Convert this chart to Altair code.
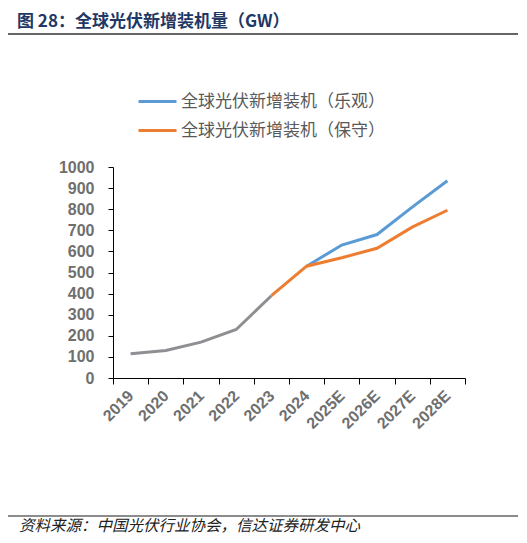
import altair as alt
import pandas as pd

years = ["2019", "2020", "2021", "2022", "2023", "2024", "2025E", "2026E", "2027E", "2028E"]
history = [115, 130, 170, 230, 390, None, None, None, None, None]
optimistic = [None, None, None, None, None, 530, 630, 680, 810, 935]
conservative = [None, None, None, None, 390, 530, 570, 615, 715, 795]

name_opt = "全球光伏新增装机（乐观）"
name_con = "全球光伏新增装机（保守）"

title_text = "图 28：全球光伏新增装机量（GW）"
source_text = "资料来源：中国光伏行业协会，信达证券研发中心"

rows = []
for y, v in zip(years, optimistic):
    if v is not None:
        rows.append({"year": y, "value": v, "series": name_opt})
for y, v in zip(years, conservative):
    if v is not None:
        rows.append({"year": y, "value": v, "series": name_con})
series_df = pd.DataFrame(rows)
hist_df = pd.DataFrame([{"year": y, "value": v} for y, v in zip(years, history) if v is not None])

CJK = "Noto Sans CJK SC"
LAT = "Liberation Sans"
GRAY_TXT = "#6f6f6f"

W, H = 352, 211

x_enc = alt.X(
    "year:O",
    sort=years,
    bandPosition=0.5,
    scale=alt.Scale(type="band", paddingInner=0, paddingOuter=0, domain=years),
    axis=alt.Axis(
        title=None,
        labelAngle=-45,
        labelAlign="right",
        labelBaseline="middle",
        labelFont=LAT,
        labelFontWeight="bold",
        labelFontSize=16,
        labelColor=GRAY_TXT,
        labelPadding=9,
        tickBand="extent",
        tickSize=6,
        tickColor="#000000",
        domainColor="#000000",
        grid=False,
    ),
)
y_enc = alt.Y(
    "value:Q",
    scale=alt.Scale(domain=[0, 1000], nice=False),
    axis=alt.Axis(
        title=None,
        values=list(range(0, 1001, 100)),
        format="d",
        labelFont=LAT,
        labelFontWeight="bold",
        labelFontSize=16,
        labelColor=GRAY_TXT,
        labelPadding=14,
        tickSize=5,
        tickColor="#000000",
        domainColor="#000000",
        grid=False,
    ),
)

hist_line = alt.Chart(hist_df).mark_line(strokeWidth=3, color="#8e8f92").encode(x=x_enc, y=y_enc)

series_line = alt.Chart(series_df).mark_line(strokeWidth=3).encode(
    x=x_enc,
    y=y_enc,
    color=alt.Color(
        "series:N",
        sort=[name_opt, name_con],
        scale=alt.Scale(domain=[name_opt, name_con], range=["#5b9bd5", "#ed7d31"]),
        legend=alt.Legend(
            title=None,
            orient="none",
            legendX=24,
            legendY=-86,
            symbolType="stroke",
            symbolSize=1444,
            symbolStrokeWidth=3,
            labelFont=CJK,
            labelFontSize=17,
            labelColor="#595959",
            labelOffset=3,
            rowPadding=0,
            labelLimit=400,
        ),
    ),
    detail="series:N",
)

title_df = pd.DataFrame([{"t": title_text}])
title_mark = alt.Chart(title_df).mark_text(
    align="left", baseline="alphabetic", font=CJK, fontSize=17, fontWeight="bold", color="#1f3864"
).encode(text="t:N", x=alt.value(-96), y=alt.value(-140))

source_df = pd.DataFrame([{"t": source_text}])
source_mark = alt.Chart(source_df).mark_text(
    align="left", baseline="middle", font=CJK, fontSize=15.5, fontStyle="italic", color="#222222"
).encode(text="t:N", x=alt.value(-94), y=alt.value(359))

top_rule = alt.Chart(title_df).mark_rule(color="#333333", strokeWidth=1.5).encode(
    x=alt.value(-108), x2=alt.value(405), y=alt.value(-133)
)
bottom_rule = alt.Chart(source_df).mark_rule(color="#8c8c8c", strokeWidth=2).encode(
    x=alt.value(-108), x2=alt.value(405), y=alt.value(349)
)

chart = (
    alt.layer(hist_line, series_line, title_mark, source_mark, top_rule, bottom_rule)
    .properties(
        width=W,
        height=H,
        autosize=alt.AutoSizeParams(type="none"),
        padding={"left": 105, "top": 159, "right": 54, "bottom": 157},
        background="white",
    )
    .configure_view(stroke=None)
)

chart.save("out.html", embed_options={"renderer": "svg", "actions": False})
